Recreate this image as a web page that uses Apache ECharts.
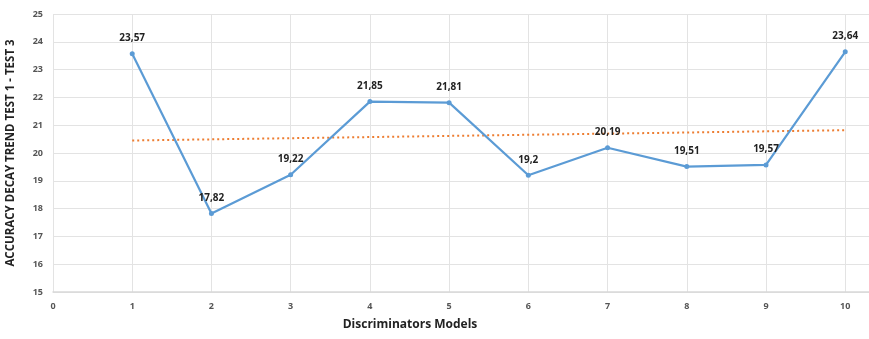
<!DOCTYPE html>
<html><head><meta charset="utf-8">
<script src="https://cdn.jsdelivr.net/npm/echarts@6/dist/echarts.min.js"></script>
<style>html,body{margin:0;padding:0;background:#fff}#c{width:869px;height:339px}</style>
</head><body><div id="c"></div>
<script>
const models = [1, 2, 3, 4, 5, 6, 7, 8, 9, 10];
const accuracy = [23.57, 17.82, 19.22, 21.85, 21.81, 19.2, 20.19, 19.51, 19.57, 23.64];
const trendX = [1, 10];
const trendY = [20.45, 20.82];
const xAxisTitle = 'Discriminators Models';
const yAxisTitle = 'ACCURACY DECAY TREND TEST 1 - TEST 3';

const font = '"Open Sans", "DejaVu Sans", sans-serif';
const chart = echarts.init(document.getElementById('c'));
chart.setOption({
  animation: false,
  backgroundColor: '#fff',
  grid: { left: 53, right: 0, top: 14, bottom: 47, containLabel: false, outerBoundsMode: 'none' },
  xAxis: {
    type: 'value', min: 0, max: 10.3, interval: 1,
    name: xAxisTitle, nameLocation: 'middle', nameGap: 27,
    nameTextStyle: { fontFamily: font, fontWeight: 'bold', fontSize: 12, color: '#222', padding: [0, 102, 0, 0] },
    axisLine: { lineStyle: { color: '#d9d9d9', width: 1.5 } },
    axisTick: { show: false },
    axisLabel: { fontFamily: font, fontSize: 9, fontWeight: 'bold', color: '#555', margin: 10, showMaxLabel: false,
      formatter: v => Number.isInteger(v) ? String(v) : '' },
    splitLine: { show: true, lineStyle: { color: '#e3e3e3', width: 1 } }
  },
  yAxis: {
    type: 'value', min: 15, max: 25, interval: 1,
    name: yAxisTitle, nameLocation: 'middle', nameGap: 36, nameRotate: 90,
    nameTextStyle: { fontFamily: font, fontWeight: 'bold', fontSize: 11.5, color: '#222' },
    axisLine: { show: false },
    axisTick: { show: false },
    axisLabel: { fontFamily: font, fontSize: 9, fontWeight: 'bold', color: '#555', margin: 10 },
    splitLine: { show: true, lineStyle: { color: '#e3e3e3', width: 1 } }
  },
  series: [
    {
      type: 'line',
      data: trendX.map((x, i) => [x, trendY[i]]),
      symbol: 'none',
      lineStyle: { color: '#ED7D31', width: 2, type: [2, 3] },
      z: 2
    },
    {
      type: 'line',
      data: models.map((x, i) => [x, accuracy[i]]),
      symbol: 'circle', symbolSize: 5,
      itemStyle: { color: '#5B9BD5' },
      lineStyle: { color: '#5B9BD5', width: 2.2 },
      label: {
        show: true, position: 'top', distance: 8,
        fontFamily: font, fontSize: 10, fontWeight: 'bold', color: '#222',
        formatter: p => String(p.value[1]).replace('.', ',')
      },
      z: 3
    }
  ]
});
</script></body></html>
